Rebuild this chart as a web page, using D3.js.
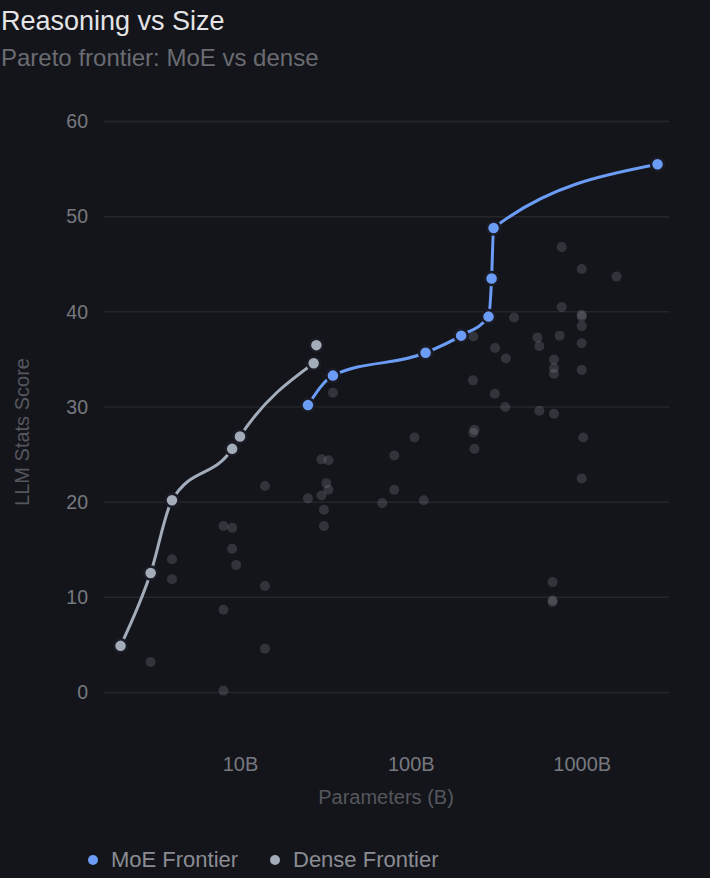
<!DOCTYPE html>
<html><head><meta charset="utf-8">
<script src="https://cdn.jsdelivr.net/npm/d3@7"></script>
<style>html,body{margin:0;padding:0;background:#14151b;}svg{display:block;}</style>
</head><body>
<div id="chart"></div>
<script>
const title = "Reasoning vs Size";
const subtitle = "Pareto frontier: MoE vs dense";
const xLabel = "Parameters (B)";
const yLabel = "LLM Stats Score";
const yTicks = [0, 10, 20, 30, 40, 50, 60];
const xTicks = [10, 100, 1000];
const xTickLabels = ["10B", "100B", "1000B"];

// background models: [params B, score]
const otherParams = [35, 30, 33, 14, 32, 33, 30, 25, 31, 31, 8, 9, 9, 9.5, 4, 4, 14, 8, 3, 14, 8, 68, 119,
  764, 1000, 1600, 764, 1000, 1000, 402, 1000, 743, 232, 551, 565, 311, 1000, 360, 688, 688, 688, 1000,
  231, 310, 357, 565, 688, 1020, 232, 236, 236, 105, 80, 80, 1000, 676, 676, 676];
const otherScores = [31.5, 24.5, 24.4, 21.7, 22.0, 21.3, 20.7, 20.4, 19.2, 17.5, 17.5, 17.3, 15.1, 13.4, 14.0, 11.9, 11.2, 8.7, 3.2, 4.6, 0.2, 19.9, 20.2,
  46.8, 44.5, 43.7, 40.5, 39.7, 39.5, 39.4, 38.5, 37.5, 37.4, 37.3, 36.4, 36.2, 36.7, 35.1, 35.0, 34.1, 33.5, 33.9,
  32.8, 31.4, 30.0, 29.6, 29.3, 26.8, 27.3, 27.6, 25.6, 26.8, 24.9, 21.3, 22.5, 11.6, 9.7, 9.5];

const moeParams = [25, 35, 122, 197, 285, 297, 305, 2780];
const moeScores = [30.2, 33.3, 35.7, 37.5, 39.5, 43.5, 48.8, 55.5];

const denseParams = [2, 3, 4, 9, 10, 27];
const denseScores = [4.9, 12.55, 20.2, 25.6, 26.9, 34.6];
const denseExtraParams = [28];
const denseExtraScores = [36.5];

const legendLabels = ["MoE Frontier", "Dense Frontier"];
const moeColor = "#6b9cf6", denseColor = "#a3acb9";

const W = 710, H = 878;
const svg = d3.select("#chart").append("svg").attr("width", W).attr("height", H)
  .style("font-family", "'Liberation Sans', Arial, Helvetica, sans-serif");
svg.append("rect").attr("width", W).attr("height", H).attr("fill", "#14151b");

const x = d3.scaleLog().domain([1.6, 3200]).range([104, 668]);
const y = d3.scaleLinear().domain([0, 60]).range([692.5, 121.5]);

svg.append("text").attr("x", 1).attr("y", 30).attr("fill", "#e4e4e6").attr("font-size", 27).text(title);
svg.append("text").attr("x", 1).attr("y", 66).attr("fill", "#6a6c72").attr("font-size", 24).text(subtitle);

// grid
svg.append("g").selectAll("line").data(yTicks).join("line")
  .attr("x1", 104).attr("x2", 669).attr("y1", d => y(d)).attr("y2", d => y(d))
  .attr("stroke", "#25262c").attr("stroke-width", 1.5);

// y axis
const yAxis = svg.append("g").attr("transform", "translate(104,0)")
  .call(d3.axisLeft(y).tickValues(yTicks).tickSize(0).tickPadding(16));
yAxis.select(".domain").remove();
yAxis.selectAll("text").attr("fill", "#77797f").attr("font-size", 19.5).style("font-family", "inherit");

// x axis
const xAxis = svg.append("g").attr("transform", "translate(0,692.5)")
  .call(d3.axisBottom(x).tickValues(xTicks).tickFormat((d, i) => xTickLabels[i]).tickSize(0).tickPadding(64));
xAxis.select(".domain").remove();
xAxis.selectAll("text").attr("fill", "#77797f").attr("font-size", 20).style("font-family", "inherit");

svg.append("text").attr("x", 386).attr("y", 804).attr("text-anchor", "middle")
  .attr("fill", "#55575d").attr("font-size", 20).text(xLabel);
svg.append("text").attr("transform", "translate(29,432) rotate(-90)").attr("text-anchor", "middle")
  .attr("fill", "#55575d").attr("font-size", 20).text(yLabel);

// background points
svg.append("g").selectAll("circle").data(otherParams.map((p, i) => [p, otherScores[i]])).join("circle")
  .attr("cx", d => x(d[0])).attr("cy", d => y(d[1])).attr("r", 5)
  .attr("fill", "#9ea3ad").attr("fill-opacity", 0.22);

const line = d3.line().x(d => x(d[0])).y(d => y(d[1])).curve(d3.curveMonotoneX);
const dense = denseParams.map((p, i) => [p, denseScores[i]]);
const moe = moeParams.map((p, i) => [p, moeScores[i]]);

svg.append("path").datum(dense).attr("d", line).attr("fill", "none").attr("stroke", denseColor).attr("stroke-width", 3);
svg.append("path").datum(moe).attr("d", line).attr("fill", "none").attr("stroke", moeColor).attr("stroke-width", 3);

const allDense = dense.concat(denseExtraParams.map((p, i) => [p, denseExtraScores[i]]));
svg.append("g").selectAll("circle").data(allDense).join("circle")
  .attr("cx", d => x(d[0])).attr("cy", d => y(d[1])).attr("r", 6.5)
  .attr("fill", denseColor).attr("stroke", "#1a1b24").attr("stroke-width", 2.5);
svg.append("g").selectAll("circle").data(moe).join("circle")
  .attr("cx", d => x(d[0])).attr("cy", d => y(d[1])).attr("r", 6.5)
  .attr("fill", moeColor).attr("stroke", "#1a1b24").attr("stroke-width", 2.5);

// legend
const leg = svg.append("g");
const legX = [93, 275];
const legC = [moeColor, denseColor];
legendLabels.forEach((l, i) => {
  leg.append("circle").attr("cx", legX[i]).attr("cy", 860).attr("r", 5).attr("fill", legC[i]);
  leg.append("text").attr("x", legX[i] + 18).attr("y", 867).attr("fill", "#8a8c92").attr("font-size", 22).text(l);
});
</script>
</body></html>
